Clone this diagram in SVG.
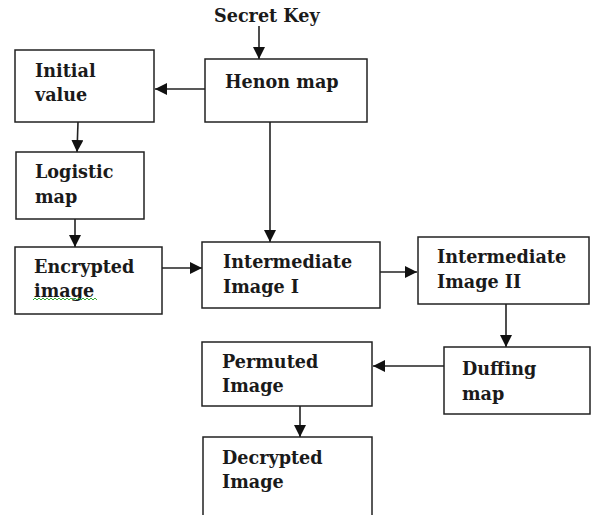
<svg xmlns="http://www.w3.org/2000/svg" width="593" height="515" viewBox="0 0 593 515">
<style>
.box{fill:#fff;stroke:#222;stroke-width:1.5}
.t{font-family:"DejaVu Serif","Liberation Serif",serif;font-weight:bold;font-size:17.6px;fill:#1a1a1a}
.c{stroke:#222;stroke-width:1.6;fill:none}
</style>
<defs>
<marker id="ah" viewBox="0 0 12 12" refX="12" refY="6" markerWidth="12" markerHeight="12" markerUnits="userSpaceOnUse" orient="auto">
<path d="M0,0 L12,6 L0,12 Z" fill="#111"/>
</marker>
</defs>
<rect width="593" height="515" fill="#fff"/>
<text class="t" x="214" y="22">Secret Key</text>
<g id="connectors">
<line class="c" x1="259" y1="26" x2="259" y2="59" marker-end="url(#ah)"/>
<line class="c" x1="205" y1="89" x2="155" y2="89" marker-end="url(#ah)"/>
<line class="c" x1="78" y1="122" x2="77" y2="152" marker-end="url(#ah)"/>
<line class="c" x1="75" y1="219" x2="75" y2="247" marker-end="url(#ah)"/>
<line class="c" x1="270" y1="122" x2="270" y2="242" marker-end="url(#ah)"/>
<line class="c" x1="162" y1="268" x2="202" y2="268" marker-end="url(#ah)"/>
<line class="c" x1="380" y1="272" x2="417" y2="272" marker-end="url(#ah)"/>
<line class="c" x1="506" y1="304" x2="506" y2="347" marker-end="url(#ah)"/>
<line class="c" x1="444" y1="366" x2="373" y2="366" marker-end="url(#ah)"/>
<line class="c" x1="300" y1="406" x2="300" y2="437" marker-end="url(#ah)"/>
</g>
<g id="henon"><rect class="box" x="205" y="59" width="162" height="63"/><text class="t" x="225" y="88">Henon map</text></g>
<g id="initial"><rect class="box" x="15" y="50" width="139" height="72"/><text class="t" x="35" y="77">Initial</text><text class="t" x="35" y="101">value</text></g>
<g id="logistic"><rect class="box" x="16" y="152" width="128" height="67"/><text class="t" x="35" y="178">Logistic</text><text class="t" x="35" y="203">map</text></g>
<g id="encrypted"><rect class="box" x="15" y="247" width="147" height="67"/><text class="t" x="34" y="273">Encrypted</text><text class="t" x="34" y="297">image</text>
<path d="M33,300 l2,-2 l2,2 l2,-2 l2,2 l2,-2 l2,2 l2,-2 l2,2 l2,-2 l2,2 l2,-2 l2,2 l2,-2 l2,2 l2,-2 l2,2 l2,-2 l2,2 l2,-2 l2,2 l2,-2 l2,2 l2,-2 l2,2 l2,-2 l2,2 l2,-2 l2,2 l2,-2 l2,2 l2,-2 l2,2" fill="none" stroke="#3a3" stroke-width="1"/></g>
<g id="inter1"><rect class="box" x="202" y="242" width="178" height="66"/><text class="t" x="223" y="268">Intermediate</text><text class="t" x="223" y="293">Image I</text></g>
<g id="inter2"><rect class="box" x="418" y="237" width="171" height="67"/><text class="t" x="437" y="263">Intermediate</text><text class="t" x="437" y="288">Image II</text></g>
<g id="duffing"><rect class="box" x="444" y="347" width="146" height="67"/><text class="t" x="462" y="375">Duffing</text><text class="t" x="462" y="400">map</text></g>
<g id="permuted"><rect class="box" x="202" y="342" width="170" height="64"/><text class="t" x="222" y="368">Permuted</text><text class="t" x="222" y="392">Image</text></g>
<g id="decrypted"><rect class="box" x="203" y="437" width="169" height="90"/><text class="t" x="222" y="464">Decrypted</text><text class="t" x="222" y="488">Image</text></g>
</svg>
